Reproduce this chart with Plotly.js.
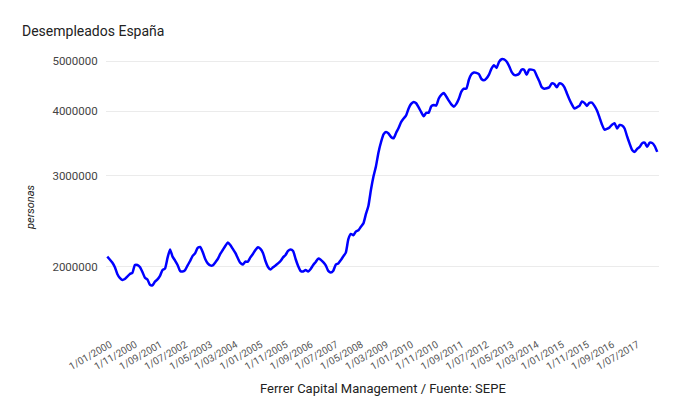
<!DOCTYPE html>
<html>
<head>
<meta charset="utf-8">
<script src="https://cdn.plot.ly/plotly-3.0.1.min.js"></script>
<style>html,body{margin:0;padding:0;background:#fff}#chart{width:680px;height:420px}</style>
</head>
<body>
<div id="chart"></div>
<script>
// Monthly registered unemployment, Jan 2000 - Apr 2018 (persons)
const startYear = 2000;
const desempleados = [
  2092000, 2066000, 2038000, 1998000, 1937000, 1903000, 1886000, 1894000, 1914000, 1937000, 1945000, 2016000,
  2016000, 1998000, 1954000, 1905000, 1890000, 1845000, 1841000, 1872000, 1890000, 1920000, 1971000, 1985000,
  2080000, 2160000, 2092000, 2056000, 2016000, 1963000, 1958000, 1971000, 2012000, 2052000, 2099000, 2124000,
  2175000, 2184000, 2136000, 2070000, 2030000, 2012000, 2012000, 2039000, 2070000, 2117000, 2155000, 2194000,
  2227000, 2204000, 2165000, 2127000, 2077000, 2034000, 2021000, 2046000, 2046000, 2085000, 2117000, 2155000,
  2181000, 2165000, 2127000, 2052000, 1998000, 1975000, 1995000, 2012000, 2030000, 2052000, 2085000, 2108000,
  2146000, 2160000, 2146000, 2070000, 2007000, 1963000, 1958000, 1971000, 1958000, 1980000, 2016000, 2043000,
  2074000, 2064000, 2041000, 2013000, 1963000, 1950000, 1965000, 2020000, 2030000, 2060000, 2095000, 2130000,
  2261000, 2315000, 2301000, 2339000, 2353000, 2390000, 2426000, 2530000, 2625000, 2818000, 2989000, 3129000,
  3328000, 3482000, 3605000, 3644000, 3620000, 3565000, 3544000, 3629000, 3709000, 3808000, 3869000, 3924000,
  4048000, 4131000, 4167000, 4142000, 4066000, 3982000, 3909000, 3970000, 3972000, 4086000, 4110000, 4100000,
  4231000, 4299000, 4334000, 4269000, 4190000, 4122000, 4080000, 4131000, 4227000, 4361000, 4420000, 4422000,
  4600000, 4712000, 4751000, 4744000, 4714000, 4615000, 4587000, 4626000, 4705000, 4834000, 4908000, 4849000,
  4981000, 5040000, 5035000, 4989000, 4891000, 4764000, 4699000, 4699000, 4724000, 4811000, 4809000, 4701000,
  4814000, 4812000, 4796000, 4684000, 4572000, 4450000, 4420000, 4428000, 4448000, 4527000, 4512000, 4448000,
  4526000, 4512000, 4452000, 4333000, 4215000, 4120000, 4046000, 4068000, 4094000, 4176000, 4149000, 4094000,
  4151000, 4153000, 4095000, 4011000, 3891000, 3767000, 3683000, 3697000, 3720000, 3765000, 3790000, 3703000,
  3760000, 3751000, 3702000, 3573000, 3461000, 3363000, 3336000, 3382000, 3410000, 3467000, 3474000, 3413000,
  3477000, 3470000, 3423000, 3336000
];
const xTickLabels = [
  "1/01/2000", "1/11/2000", "1/09/2001", "1/07/2002", "1/05/2003", "1/03/2004",
  "1/01/2005", "1/11/2005", "1/09/2006", "1/07/2007", "1/05/2008", "1/03/2009",
  "1/01/2010", "1/11/2010", "1/09/2011", "1/07/2012", "1/05/2013", "1/03/2014",
  "1/01/2015", "1/11/2015", "1/09/2016", "1/07/2017"
];
const yTickVals = [2000000, 3000000, 4000000, 5000000];
const yTickText = ["2000000", "3000000", "4000000", "5000000"];

// month category labels "1/MM/YYYY"
const months = desempleados.map((v, i) => {
  const y = startYear + Math.floor(i / 12);
  const m = (i % 12) + 1;
  return "1/" + (m < 10 ? "0" + m : m) + "/" + y;
});

const W = 680, H = 420;
const L = 106, R = 21, T = 40, B = 90;
const plotW = W - L - R, plotH = H - T - B;

const trace = {
  x: months,
  y: desempleados,
  type: 'scatter',
  mode: 'lines',
  line: {color: '#0000ff', width: 2.5, shape: 'spline', smoothing: 0.5},
  hoverinfo: 'x+y'
};

const layout = {
  width: W, height: H,
  margin: {l: L, r: R, t: T, b: B, pad: 0},
  paper_bgcolor: '#fff', plot_bgcolor: '#fff',
  font: {family: 'Roboto, sans-serif', color: '#444'},
  showlegend: false,
  title: {
    text: 'Desempleados España',
    font: {family: 'Roboto, sans-serif', size: 14, color: '#222'},
    x: 22 / W, xref: 'container', xanchor: 'left',
    y: 1 - 31 / H, yref: 'container', yanchor: 'middle'
  },
  xaxis: {
    type: 'category',
    range: [-0.5, 219.7],
    tickmode: 'array',
    tickvals: xTickLabels,
    ticktext: xTickLabels,
    tickangle: -30,
    tickfont: {family: 'Roboto, sans-serif', size: 10, color: '#555'},
    showgrid: false, zeroline: false, showline: false,
    ticks: 'outside', ticklen: 4, tickcolor: 'rgba(0,0,0,0)',
    ticklabelshift: 3,
    fixedrange: true
  },
  yaxis: {
    type: 'log',
    range: [6.7396 - plotH / 517, 6.7396],
    tickmode: 'array',
    tickvals: yTickVals,
    ticktext: yTickText,
    tickfont: {family: 'Roboto, sans-serif', size: 11.5, color: '#444'},
    showgrid: true, gridcolor: '#ebebeb', gridwidth: 1,
    zeroline: false, showline: false,
    ticks: 'outside', ticklen: 5, tickcolor: 'rgba(0,0,0,0)',
    fixedrange: true
  },
  annotations: [
    {
      text: 'personas', textangle: -90,
      xref: 'paper', yref: 'paper',
      x: (31 - L) / plotW, y: (T + plotH - 207) / plotH,
      xanchor: 'center', yanchor: 'middle', showarrow: false,
      font: {family: 'Roboto, sans-serif', size: 11, color: '#222', style: 'italic'}
    },
    {
      text: 'Ferrer Capital Management / Fuente: SEPE',
      xref: 'paper', yref: 'paper',
      x: 0.5, y: (T + plotH - 388) / plotH,
      xanchor: 'center', yanchor: 'middle', showarrow: false,
      font: {family: 'Roboto, sans-serif', size: 13, color: '#222'}
    }
  ]
};

Plotly.newPlot('chart', [trace], layout, {displayModeBar: false, staticPlot: true});
</script>
</body>
</html>
